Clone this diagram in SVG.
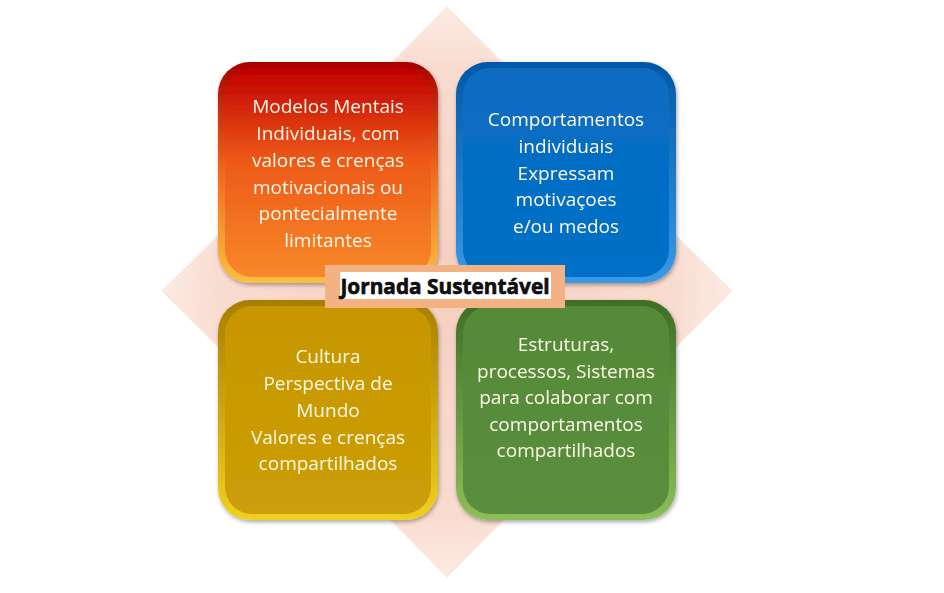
<svg xmlns="http://www.w3.org/2000/svg" width="944" height="593" viewBox="0 0 944 593">
<defs>
<linearGradient id="gRed" x1="0" y1="0" x2="0" y2="1">
<stop offset="0" stop-color="#C00000"/><stop offset="0.45" stop-color="#EE5A18"/><stop offset="1" stop-color="#F7892A"/>
</linearGradient>
<linearGradient id="gRedEdge" x1="0" y1="0" x2="0" y2="1">
<stop offset="0" stop-color="#A80000"/><stop offset="0.5" stop-color="#F06A1E"/><stop offset="1" stop-color="#FBC040"/>
</linearGradient>
<linearGradient id="gBlue" x1="0" y1="0" x2="0" y2="1">
<stop offset="0" stop-color="#0A6CC0"/><stop offset="1" stop-color="#0070C8"/>
</linearGradient>
<linearGradient id="gBlueEdge" x1="0" y1="0" x2="0" y2="1">
<stop offset="0" stop-color="#0058A8"/><stop offset="1" stop-color="#3A9AE8"/>
</linearGradient>
<linearGradient id="gYel" x1="0" y1="0" x2="0" y2="1">
<stop offset="0" stop-color="#C79600"/><stop offset="1" stop-color="#CC9E08"/>
</linearGradient>
<linearGradient id="gYelEdge" x1="0" y1="0" x2="0" y2="1">
<stop offset="0" stop-color="#A87E00"/><stop offset="1" stop-color="#F0D020"/>
</linearGradient>
<linearGradient id="gGrn" x1="0" y1="0" x2="0" y2="1">
<stop offset="0" stop-color="#548A38"/><stop offset="1" stop-color="#5A8E3C"/>
</linearGradient>
<linearGradient id="gGrnEdge" x1="0" y1="0" x2="0" y2="1">
<stop offset="0" stop-color="#3E6E26"/><stop offset="1" stop-color="#8CBE5A"/>
</linearGradient>
<radialGradient id="gDia" cx="0.5" cy="0.5" r="0.5">
<stop offset="0" stop-color="#F6CFC0"/><stop offset="0.8" stop-color="#F9DCD0"/><stop offset="1" stop-color="#FCEBE4"/>
</radialGradient>
<filter id="sh" x="-10%" y="-10%" width="120%" height="120%">
<feGaussianBlur in="SourceAlpha" stdDeviation="2"/><feOffset dx="1" dy="2"/>
<feComponentTransfer><feFuncA type="linear" slope="0.35"/></feComponentTransfer>
<feMerge><feMergeNode/><feMergeNode in="SourceGraphic"/></feMerge>
</filter>
</defs>
<style>
.t{font-family:"Open Sans","Noto Sans","Liberation Sans",sans-serif;font-size:19px;fill:#FFF8E8;text-anchor:middle}
.lbl{font-family:"Open Sans","Liberation Sans",sans-serif;font-size:20.8px;font-weight:bold;fill:#111;stroke:#000;stroke-width:0.6;text-anchor:middle}
</style>
<rect width="944" height="593" fill="#FFFFFF"/>
<g id="diamond">
<polygon points="447,8 731,291 447,576 163,291" fill="url(#gDia)" stroke="#FBE6DD" stroke-width="2"/>
</g>
<g id="n-red" filter="url(#sh)">
<rect x="218" y="62" width="220" height="221" rx="32" fill="url(#gRedEdge)"/>
<rect x="225" y="68" width="206" height="209" rx="27" fill="url(#gRed)"/>
<text class="t"><tspan x="328" y="113">Modelos Mentais</tspan><tspan x="328" y="140">Individuais, com</tspan><tspan x="328" y="167">valores e crenças</tspan><tspan x="328" y="194">motivacionais ou</tspan><tspan x="328" y="220">pontecialmente</tspan><tspan x="328" y="247">limitantes</tspan></text>
</g>
<g id="n-blue" filter="url(#sh)">
<rect x="456" y="62" width="220" height="221" rx="32" fill="url(#gBlueEdge)"/>
<rect x="463" y="68" width="206" height="209" rx="27" fill="url(#gBlue)"/>
<text class="t"><tspan x="566" y="126">Comportamentos</tspan><tspan x="566" y="153">individuais</tspan><tspan x="566" y="180">Expressam</tspan><tspan x="566" y="206">motivaçoes</tspan><tspan x="566" y="233">e/ou medos</tspan></text>
</g>
<g id="n-yellow" filter="url(#sh)">
<rect x="218" y="300" width="220" height="220" rx="32" fill="url(#gYelEdge)"/>
<rect x="225" y="306" width="206" height="208" rx="27" fill="url(#gYel)"/>
<text class="t"><tspan x="328" y="363">Cultura</tspan><tspan x="328" y="390">Perspectiva de</tspan><tspan x="328" y="417">Mundo</tspan><tspan x="328" y="444">Valores e crenças</tspan><tspan x="328" y="470">compartilhados</tspan></text>
</g>
<g id="n-green" filter="url(#sh)">
<rect x="456" y="300" width="220" height="220" rx="32" fill="url(#gGrnEdge)"/>
<rect x="463" y="306" width="206" height="208" rx="27" fill="url(#gGrn)"/>
<text class="t"><tspan x="566" y="351">Estruturas,</tspan><tspan x="566" y="378">processos, Sistemas</tspan><tspan x="566" y="404">para colaborar com</tspan><tspan x="566" y="431">comportamentos</tspan><tspan x="566" y="457">compartilhados</tspan></text>
</g>
<g id="connectors"></g>
<g id="n-label">
<rect x="325" y="265" width="240" height="43" fill="#F4B183"/>
<rect x="340" y="272" width="211" height="27" fill="#FFFFFF"/>
<text class="lbl" x="445" y="294">Jornada Sustentável</text>
</g>
</svg>
